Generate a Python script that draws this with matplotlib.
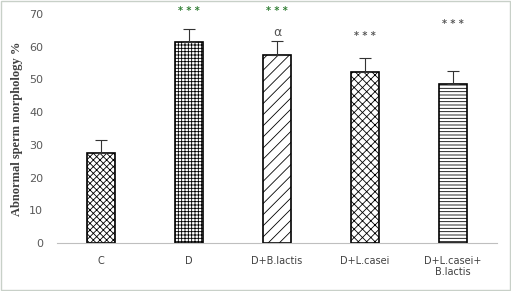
import matplotlib.pyplot as plt
from matplotlib.patches import Rectangle

groups = ["C", "D", "D+B.lactis", "D+L.casei", "D+L.casei+\nB.lactis"]
means = [27.5, 61.4, 57.4, 52.3, 48.5]
errors = [4.0, 4.0, 4.3, 4.2, 4.1]
marks = ["", "***", "***", "***", "***"]
mark_colors = ["#555555", "#2e7d32", "#2e7d32", "#555555", "#555555"]
mark_y = [0, 71.0, 71.0, 63.3, 66.8]
hatches = ["xxxxx", "+++++", "///", "xxxx", "-----"]

plt.rcParams['hatch.linewidth'] = 0.6

fig = plt.figure(figsize=(5.11, 2.91), dpi=100)
ax = fig.add_axes([57 / 511, 48 / 291, 440 / 511, 229 / 291])

x = range(len(groups))
bars = ax.bar(x, means, width=0.32, color="white", edgecolor="black",
              linewidth=1.2, hatch=hatches, zorder=2)
ax.errorbar(x, means, yerr=[[0] * len(means), errors], fmt="none",
            ecolor="#333333", elinewidth=0.8, capsize=4, capthick=0.8, zorder=3)

for i in x:
    if marks[i]:
        ax.text(i, mark_y[i], " ".join(marks[i]), ha="center", va="center",
                fontsize=7, color=mark_colors[i], fontweight="bold", clip_on=False)
# alpha mark over D+B.lactis
ax.text(2, 64.4, "α", ha="center", va="center", fontsize=9, color="#555555")

ax.set_xlim(-0.5, 4.5)
ax.set_ylim(0, 70)
ax.set_yticks(range(0, 71, 10))
ax.set_xticks(list(x))
ax.set_xticklabels(groups, fontsize=7, color="#404040")
ax.tick_params(axis="y", labelsize=8, labelcolor="#595959", length=0, pad=10)
ax.tick_params(axis="x", length=0, pad=9)
for s in ["top", "right", "left"]:
    ax.spines[s].set_visible(False)
ax.spines["bottom"].set_color("#bfbfbf")
ax.set_ylabel("Abnormal sperm morphology %", fontsize=9, fontweight="bold",
              family="Liberation Serif", color="#404040", labelpad=4)

# light chart border
fig.patches.append(Rectangle((0.002, 0.003), 0.996, 0.994, transform=fig.transFigure,
                             fill=False, edgecolor="#c8d0c8", linewidth=1))

fig.savefig("out.png", dpi=100)
